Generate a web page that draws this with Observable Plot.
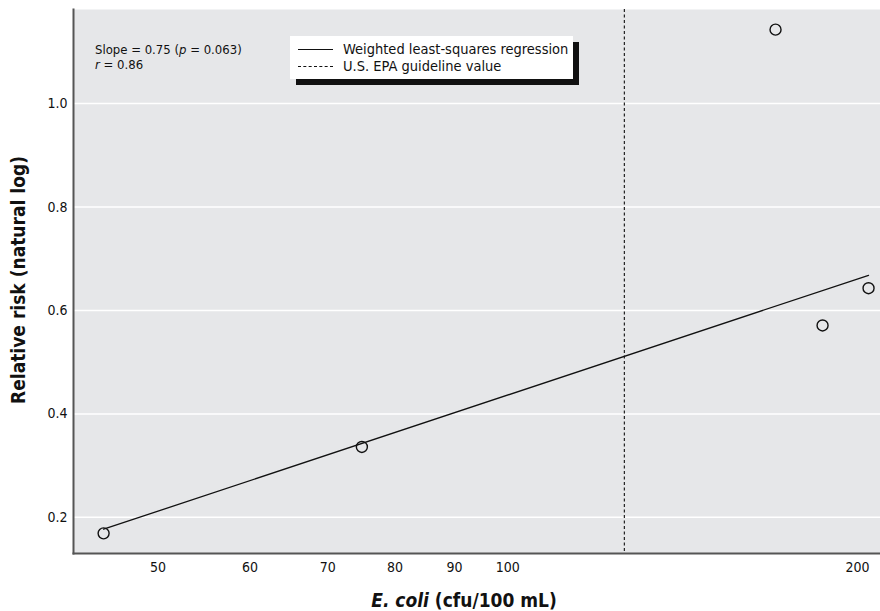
<!DOCTYPE html>
<html>
<head>
<meta charset="utf-8">
<script src="https://cdn.jsdelivr.net/npm/d3@7"></script>
<script src="https://cdn.jsdelivr.net/npm/@observablehq/plot@0.6"></script>
<style>
  html, body { margin: 0; padding: 0; background: white; }
  body { font-family: "DejaVu Sans Condensed", "Liberation Sans Narrow", sans-serif; font-stretch: condensed; color: #111; }
  #wrap { position: relative; width: 880px; height: 611px; }
  #wrap svg { display: block; }
  .note { position: absolute; left: 95px; top: 42px; font-size: 13px; line-height: 15px; white-space: nowrap; }
  .legend { position: absolute; left: 290px; top: 36px; width: 283px; height: 43px; background: white; box-shadow: 6px 6px 0 #111; box-sizing: border-box; padding: 5px 0 0 8px; font-size: 14.5px; line-height: 17px; white-space: nowrap; }
  .legend .row { display: flex; align-items: center; }
  .legend .sw { display: inline-block; width: 35px; height: 0; margin-right: 10px; border-top: 1.3px solid #111; }
  .legend .sw.dash { border-top: 1.3px dashed #111; }
  .ylab { position: absolute; left: 18px; top: 280px; transform: translate(-50%, -50%) rotate(-90deg); font-weight: bold; font-size: 19px; white-space: nowrap; }
  .xlab { position: absolute; left: 464px; top: 600px; transform: translate(-50%, -50%); font-weight: bold; font-size: 19px; white-space: nowrap; }
</style>
</head>
<body>
<div id="wrap">
  <div class="note">Slope = 0.75 (<i>p</i> = 0.063)<br><i>r</i> = 0.86</div>
  <div class="legend">
    <div class="row"><span class="sw"></span>Weighted least-squares regression</div>
    <div class="row"><span class="sw dash"></span>U.S. EPA guideline value</div>
  </div>
  <div class="ylab">Relative risk (natural log)</div>
  <div class="xlab"><i>E. coli</i> (cfu/100 mL)</div>
</div>
<script>
// Data
const ecoli = [44.9, 74.9, 170, 186.6, 204.4];          // cfu/100 mL
const logRR = [0.169, 0.336, 1.143, 0.571, 0.643];       // relative risk (natural log)
const regX = [44.9, 204.4];                              // regression line endpoints
const regY = [0.177, 0.668];
const guideline = [126];                                 // U.S. EPA guideline value
const xTicks = [50, 60, 70, 80, 90, 100, 200];
const yTicks = [0.2, 0.4, 0.6, 0.8, 1.0];

const points = ecoli.map((x, i) => ({x, y: logRR[i]}));
const reg = regX.map((x, i) => ({x, y: regY[i]}));

const chart = Plot.plot({
  width: 880,
  height: 611,
  marginLeft: 73,
  marginTop: 9,
  marginRight: 0,
  marginBottom: 58,
  x: {type: "log", domain: [42.3, 209.3]},
  y: {domain: [0.130, 1.182]},
  style: {fontFamily: '"DejaVu Sans Condensed", "Liberation Sans Narrow", sans-serif', fontSize: "14px", color: "#111", background: "white", overflow: "visible"},
  marks: [
    Plot.frame({fill: "#e6e7e9", stroke: null}),
    Plot.gridY(yTicks, {stroke: "white", strokeOpacity: 1, strokeWidth: 1.5}),
    Plot.axisY(yTicks, {tickSize: 0, tickPadding: 6, tickFormat: d => d.toFixed(1), label: null}),
    Plot.axisX(xTicks, {tickSize: 0, tickPadding: 9, tickFormat: d => String(d), label: null}),
    Plot.ruleX(guideline, {stroke: "#222", strokeWidth: 1.2, strokeDasharray: "3,2.5"}),
    Plot.line(reg, {x: "x", y: "y", stroke: "#111", strokeWidth: 1.3}),
    Plot.dot(points, {x: "x", y: "y", r: 5.5, stroke: "#111", fill: "none", strokeWidth: 1.4}),
    Plot.frame({anchor: "left", stroke: "#555", strokeWidth: 2}),
    Plot.frame({anchor: "bottom", stroke: "#555", strokeWidth: 2})
  ]
});
document.getElementById("wrap").prepend(chart);
</script>
</body>
</html>
